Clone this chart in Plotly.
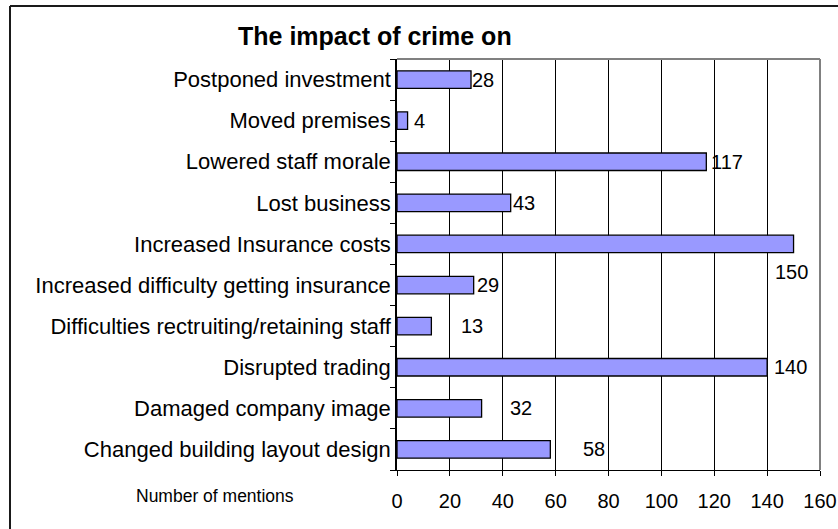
import plotly.graph_objects as go

# Data (bottom to top, as Plotly stacks horizontal categories)
categories = [
    "Changed building layout design",
    "Damaged company image",
    "Disrupted trading",
    "Difficulties rectruiting/retaining staff",
    "Increased difficulty getting insurance",
    "Increased Insurance costs",
    "Lost business",
    "Lowered staff morale",
    "Moved premises",
    "Postponed investment",
]
mentions = [58, 32, 140, 13, 29, 150, 43, 117, 4, 28]
x_ticks = [0, 20, 40, 60, 80, 100, 120, 140, 160]

# Value label offsets (pixels) from the end of each bar
label_dx = [31, 26, 5, 28, 1, -21, 0, 3, 4, -1]
label_dy = [0, 0, 0, 0, 0, -28, 0, 0, 0, 0]

W, H = 838, 529
PL, PR, PT, PB = 397, 820, 59, 470  # plot box edges in pixels
FONT = "Arial, Liberation Sans, sans-serif"


def fx(p):
    return p / W


def fy(p):
    return 1 - p / H


fig = go.Figure()

fig.add_trace(go.Bar(
    x=mentions,
    y=categories,
    orientation="h",
    marker=dict(color="#9999FF", line=dict(color="#000000", width=1.3)),
    showlegend=False,
    hovertemplate="%{y}: %{x}<extra></extra>",
))

annotations = [
    dict(text="<b>The impact of crime on</b>", x=fx(236), y=fy(36),
         xref="paper", yref="paper", xanchor="left", yanchor="middle",
         showarrow=False, font=dict(family=FONT, size=25, color="#000000")),
    dict(text="Number of mentions", x=fx(134), y=fy(496),
         xref="paper", yref="paper", xanchor="left", yanchor="middle",
         showarrow=False, font=dict(family=FONT, size=17.5, color="#000000")),
]
for cat, val, dx, dy in zip(categories, mentions, label_dx, label_dy):
    annotations.append(dict(
        text=str(val), x=val, y=cat, xref="x", yref="y",
        xanchor="left", yanchor="middle", xshift=dx, yshift=dy,
        showarrow=False, font=dict(family=FONT, size=20, color="#000000"),
    ))

shapes = [
    # grey frame on the top and right of the plot area
    dict(type="line", xref="paper", yref="paper", x0=fx(PL), x1=fx(PR), y0=fy(PT), y1=fy(PT),
         line=dict(color="#808080", width=2)),
    dict(type="line", xref="paper", yref="paper", x0=fx(PR), x1=fx(PR), y0=fy(PT), y1=fy(PB),
         line=dict(color="#808080", width=2)),
    # outer chart border
    dict(type="line", xref="paper", yref="paper", x0=fx(10), x1=fx(838), y0=fy(6), y1=fy(6),
         line=dict(color="#1a1a1a", width=2)),
    dict(type="line", xref="paper", yref="paper", x0=fx(10), x1=fx(10), y0=fy(6), y1=fy(529),
         line=dict(color="#1a1a1a", width=2)),
]

fig.update_layout(
    width=W, height=H,
    margin=dict(l=0, r=0, t=0, b=0),
    paper_bgcolor="#ffffff",
    plot_bgcolor="#ffffff",
    bargap=0.574,
    font=dict(family=FONT, color="#000000"),
    xaxis=dict(
        domain=[fx(PL), fx(PR)],
        range=[0, 160],
        tickvals=x_ticks,
        showgrid=True, gridcolor="#000000", gridwidth=1,
        zeroline=False,
        showline=True, linecolor="#000000", linewidth=1,
        ticks="outside", ticklen=5, tickcolor="#000000",
        tickfont=dict(family=FONT, size=20),
        ticklabelstandoff=8,
        automargin=False,
        fixedrange=True,
    ),
    yaxis=dict(
        domain=[fy(PB), fy(PT)],
        type="category",
        tickson="boundaries",
        ticks="outside", ticklen=5, tickcolor="#000000",
        showline=True, linecolor="#000000", linewidth=1.5,
        showgrid=False,
        tickfont=dict(family=FONT, size=22),
        automargin=False,
        fixedrange=True,
    ),
    annotations=annotations,
    shapes=shapes,
)

fig.write_html("out.html")
